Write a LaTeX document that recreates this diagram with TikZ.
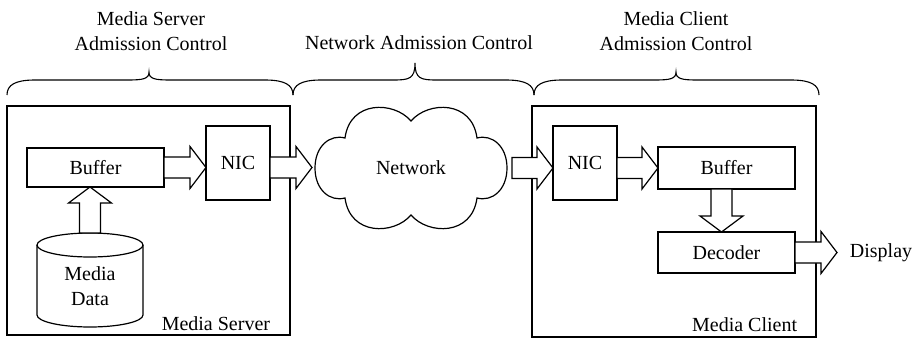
\documentclass[tikz,border=0pt]{standalone}
\usepackage{fontspec}
\setmainfont{Liberation Serif}
\usetikzlibrary{calc}

% right-pointing block arrow from #1 to tip #2 (same height)
\newcommand\rblock[2]{%
  \draw[blk] ($(#1)+(0,-10.5)$) -- ($(#2)+(-16,-10.5)$) -- ($(#2)+(-16,-21)$)
    -- (#2) -- ($(#2)+(-16,21)$) -- ($(#2)+(-16,10.5)$) -- ($(#1)+(0,10.5)$) -- cycle;}
% vertical block arrow from #1 to tip #2; #3 = +1 downward, -1 upward
\newcommand\vblock[3]{%
  \draw[blk] ($(#1)+(-10.5,0)$) -- ($(#2)+(-10.5,-16*#3)$) -- ($(#2)+(-21.5,-16*#3)$)
    -- (#2) -- ($(#2)+(21.5,-16*#3)$) -- ($(#2)+(10.5,-16*#3)$) -- ($(#1)+(10.5,0)$) -- cycle;}
% curly brace over a span: left end, right end, tip x, tip y
\newcommand\spanbrace[4]{%
  \draw[line width=1.1pt] (#1,95) .. controls (#1,85) and (#1+8,80) .. (#1+28,80)
    -- (#3-22,80) .. controls (#3-6,80) and (#3,79) .. (#3,#4)
    .. controls (#3,79) and (#3+6,80) .. (#3+22,80)
    -- (#2-28,80) .. controls (#2-8,80) and (#2,85) .. (#2,95);}

\begin{document}
\begin{tikzpicture}[x=1pt,y=-1pt,line width=1.2pt,
  every node/.style={font=\fontsize{20}{25}\selectfont},
  frame/.style={draw,inner sep=0pt,outer sep=0pt,anchor=north west},
  blk/.style={draw,fill=white,line join=miter}]
\useasboundingbox (0,0) rectangle (914,338);

% titles and braces
\node[align=center,anchor=base] (tsrv) at (151,50) {Media Server\\Admission Control};
\node[anchor=base] (tnet) at (419,49) {Network Admission Control};
\node[align=center,anchor=base] (tcli) at (676,50) {Media Client\\Admission Control};
\spanbrace{7}{293}{149}{72}
\spanbrace{293}{534}{415}{63}
\spanbrace{534}{819}{676}{72}

% media server
\node[frame,minimum width=283,minimum height=229] (srv) at (7,106) {};
\node[anchor=base east] (srvlbl) at (274,330) {Media Server};
\node[frame,minimum width=137,minimum height=39] (sbuf) at (27,148) {};
\node (sbuftxt) at (sbuf.center) {Buffer};
\node[frame,minimum width=64,minimum height=74] (snic) at (206,126) {};
\node (snictxt) at (snic.center) {NIC};

% media data store
\node[inner sep=0pt,minimum width=106,minimum height=94,anchor=north] (cyl) at (90,233) {};
\draw (37,245) -- (37,315) arc[start angle=180,end angle=360,x radius=53pt,y radius=12pt] -- (143,245);
\draw (90,245) ellipse[x radius=53pt,y radius=12pt];
\node[align=center,text depth=0pt] (cyltxt) at (90,286) {Media\\Data};

% network cloud
\node (net) at (411,168) {Network};
\draw (411,121) .. controls (428,101) and (472,100) .. (477,138)
  .. controls (492,134) and (507,146) .. (507,168)
  .. controls (507,190) and (492,202) .. (477,198)
  .. controls (472,236) and (428,235) .. (411,215)
  .. controls (394,235) and (350,236) .. (345,198)
  .. controls (330,202) and (315,190) .. (315,168)
  .. controls (315,146) and (330,134) .. (345,138)
  .. controls (350,100) and (394,101) .. (411,121) -- cycle;
\coordinate (netin) at (312,167.5);
\coordinate (netout) at (512,168);

% media client
\node[frame,minimum width=284,minimum height=231] (cli) at (532,106) {};
\node[anchor=base east] (clilbl) at (801,331) {Media Client};
\node[frame,minimum width=64,minimum height=74] (cnic) at (553,126) {};
\node (cnictxt) at (cnic.center) {NIC};
\node[frame,minimum width=137,minimum height=42] (cbuf) at (658,147) {};
\node (cbuftxt) at (cbuf.center) {Buffer};
\node[frame,minimum width=137,minimum height=41] (cdec) at (658,232) {};
\node (cdectxt) at (cdec.center) {Decoder};
\node[anchor=west] (disp) at (846,252.5) {Display};
\coordinate (dispin) at (837,252.5);

% data flow
\vblock{cyl.north}{sbuf.south -| cyl.north}{-1}
\rblock{sbuf.east}{snic.west |- sbuf.east}
\rblock{snic.east |- sbuf.east}{netin}
\rblock{netout}{cnic.west |- netout}
\rblock{cnic.east |- cbuf.east}{cbuf.west}
\coordinate (cbufout) at ($(cbuf.south)+(-5,0)$);
\vblock{cbufout}{cdec.north -| cbufout}{1}
\rblock{cdec.east}{dispin}
\end{tikzpicture}
\end{document}
